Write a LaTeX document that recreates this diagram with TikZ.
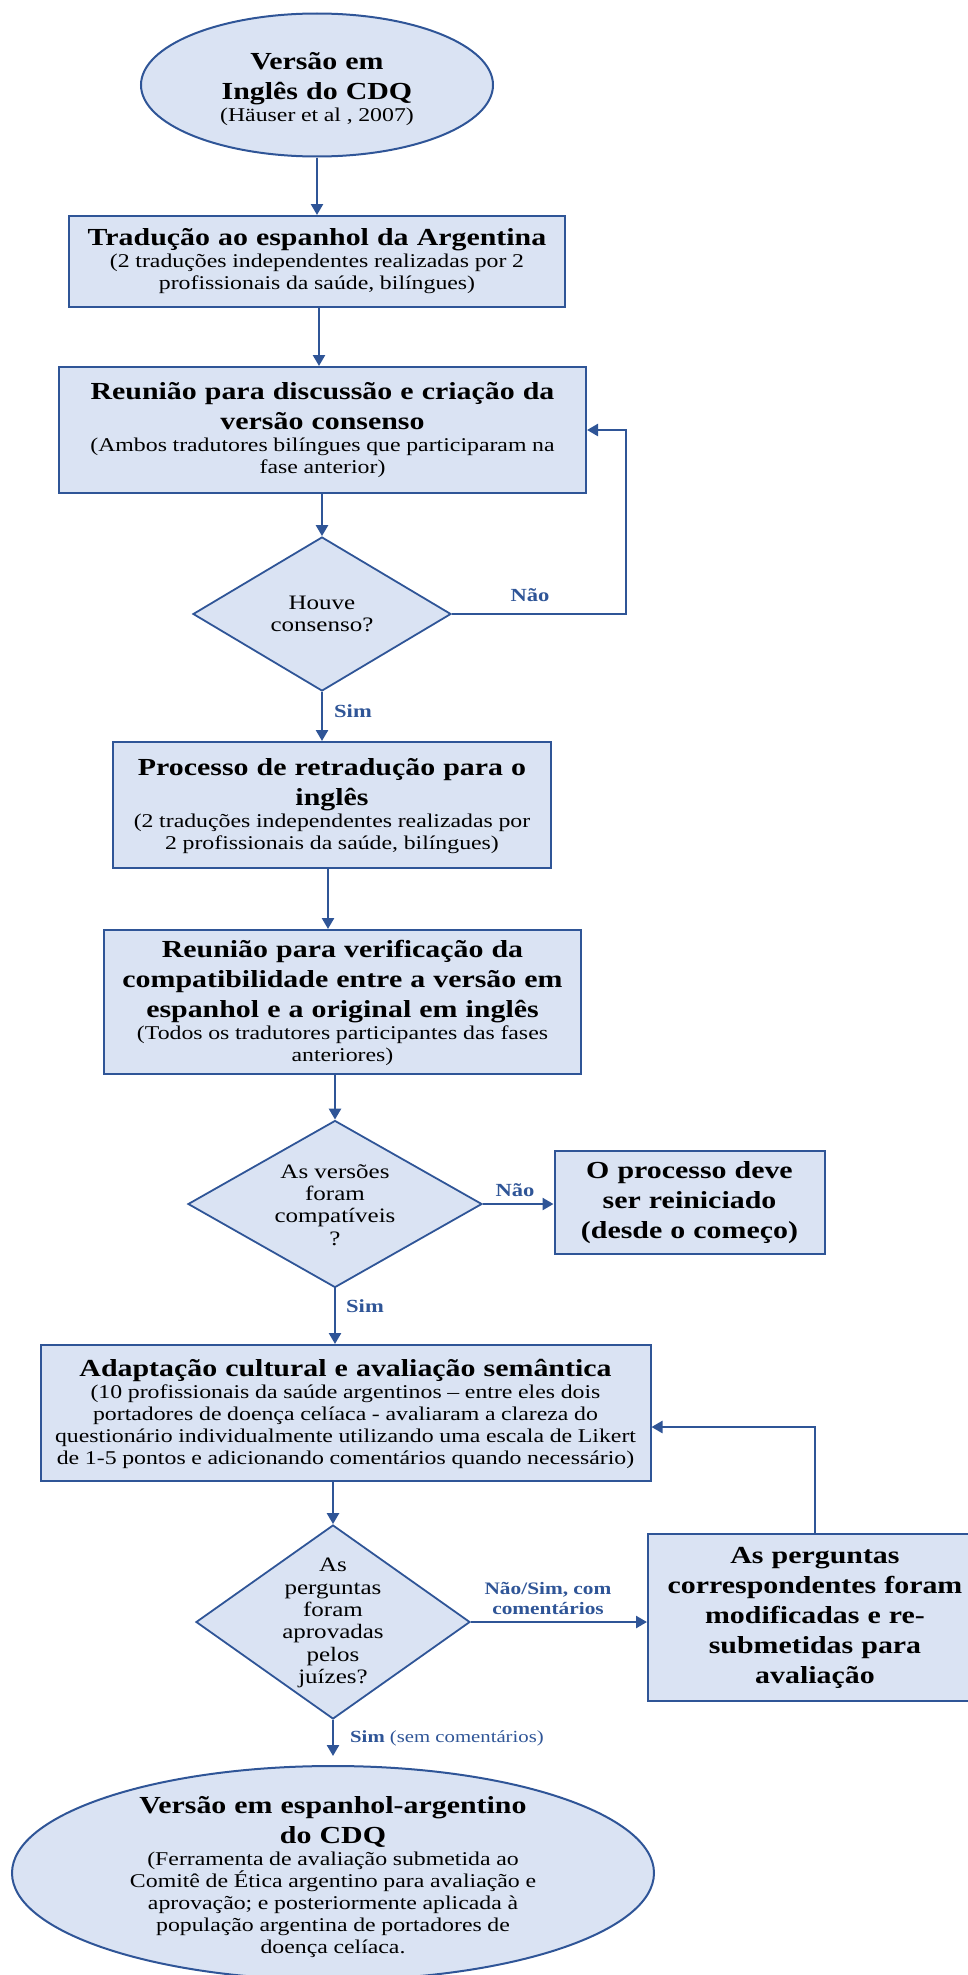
\documentclass[tikz,border=0pt]{standalone}
\usepackage{fontspec}
\setmainfont{Liberation Serif}[FakeStretch=1.22]
\usetikzlibrary{shapes.geometric,arrows.meta,calc}
\definecolor{boxfill}{HTML}{DAE3F3}
\definecolor{boxline}{HTML}{2F5597}
\definecolor{lbl}{HTML}{2F5597}
\newcommand\TitleF{\fontsize{24.5}{30}\selectfont\bfseries\spaceskip=0.33em\relax}
\newcommand\SubF{\fontsize{19.5}{22}\selectfont\mdseries\spaceskip=0.29em\relax}
\newcommand\DiaF{\fontsize{20.5}{22.4}\selectfont}
\newcommand\LblF{\fontsize{18.5}{20}\selectfont\bfseries}
\begin{document}
\begin{tikzpicture}[x=1pt,y=-1pt,
  box/.style={draw=boxline,fill=boxfill,line width=2pt,rectangle,inner sep=0pt,align=center},
  ell/.style={draw=boxline,fill=boxfill,line width=2pt,ellipse,inner sep=0pt,align=center},
  dia/.style={draw=boxline,fill=boxfill,line width=1.8pt,diamond,inner sep=0pt},
  dtext/.style={align=center,font=\DiaF,inner sep=0pt},
  arr/.style={draw=boxline,line width=2.5pt,-{Triangle[length=11pt,width=12pt]}},
  lab/.style={text=lbl,font=\LblF,inner sep=0pt,align=center}]
\useasboundingbox (0,0) rectangle (968,1975);

% start ellipse
\node[ell,minimum width=352pt,minimum height=143pt] (e1) at (317,85) {};
\node[align=center,inner sep=0pt,text width=340pt] (e1t) at (317,89)
  {\TitleF Versão em\\Inglês do CDQ\par\SubF (Häuser et al , 2007)\par};

\node[box,minimum width=496pt,minimum height=91pt] (b2) at (317,261.5) {};
\node[align=center,inner sep=0pt,text width=494pt] (b2t) at (317,261)
  {\TitleF Tradução ao espanhol da Argentina\par\SubF (2 traduções independentes realizadas por 2\\profissionais da saúde, bilíngues)\par};

\node[box,minimum width=527pt,minimum height=126pt] (b3) at (322.5,430) {};
\node[align=center,inner sep=0pt,text width=525pt] (b3t) at (322.5,430)
  {\TitleF Reunião para discussão e criação da\\versão consenso\par\SubF (Ambos tradutores bilíngues que participaram na\\fase anterior)\par};

\node[dia,minimum width=258pt,minimum height=154pt] (d1) at (322,614) {};
\node[dtext] (d1t) at (322,614) {Houve\\consenso?};

\node[box,minimum width=438pt,minimum height=126pt] (b4) at (332,805) {};
\node[align=center,inner sep=0pt,text width=436pt] (b4t) at (332,806)
  {\TitleF Processo de retradução para o\\inglês\par\SubF (2 traduções independentes realizadas por\\2 profissionais da saúde, bilíngues)\par};

\node[box,minimum width=477pt,minimum height=144pt] (b5) at (342.5,1002) {};
\node[align=center,inner sep=0pt,text width=475pt] (b5t) at (342.5,1003)
  {\TitleF Reunião para verificação da\\compatibilidade entre a versão em\\espanhol e a original em inglês\par\SubF (Todos os tradutores participantes das fases\\anteriores)\par};

\node[dia,minimum width=294pt,minimum height=167pt] (d2) at (335,1204) {};
\node[dtext] (d2t) at (335,1205) {As versões\\foram\\compatíveis\\?};

\node[box,minimum width=270pt,minimum height=103pt] (b6) at (689.5,1202.5) {};
\node[align=center,inner sep=0pt,text width=268pt] (b6t) at (689.5,1203)
  {\TitleF O processo deve\\ser reiniciado\\(desde o começo)\par};

\node[box,minimum width=610pt,minimum height=136pt] (b7) at (345.5,1413) {};
\node[align=center,inner sep=0pt,text width=608pt] (b7t) at (345.5,1414)
  {\TitleF Adaptação cultural e avaliação semântica\par\SubF (10 profissionais da saúde argentinos – entre eles dois\\portadores de doença celíaca - avaliaram a clareza do\\questionário individualmente utilizando uma escala de Likert\\de 1-5 pontos e adicionando comentários quando necessário)\par};

\node[dia,minimum width=274pt,minimum height=194pt] (d3) at (333,1622) {};
\node[dtext] (d3t) at (333,1623) {As\\perguntas\\foram\\aprovadas\\pelos\\juízes?};

\node[box,minimum width=334pt,minimum height=167pt] (b8) at (815,1617.5) {};
\node[align=center,inner sep=0pt,text width=332pt] (b8t) at (815,1618)
  {\TitleF As perguntas\\correspondentes foram\\modificadas e re-\\submetidas para\\avaliação\par};

\node[ell,minimum width=642pt,minimum height=214pt] (e2) at (333,1873) {};
\node[align=center,inner sep=0pt,text width=620pt] (e2t) at (333,1877)
  {\TitleF Versão em espanhol-argentino\\do CDQ\par\SubF (Ferramenta de avaliação submetida ao\\Comitê de Ética argentino para avaliação e\\aprovação; e posteriormente aplicada à\\população argentina de portadores de\\doença celíaca.\par};

% connectors
\draw[arr] (e1.south) -- (e1.south |- b2.north);
\draw[arr] ([xshift=2pt]b2.south) -- ([xshift=2pt]b2.south |- b3.north);
\draw[arr] (d1.north |- b3.south) -- (d1.north);
\coordinate (loopx) at (626,0);
\draw[arr] (d1.east) -| (loopx |- b3.east) -- (b3.east);
\draw[arr] (d1.south) -- (d1.south |- b4.north);
\draw[arr] ([xshift=-4pt]b4.south) -- ([xshift=-4pt]b4.south |- b5.north);
\draw[arr] (d2.north |- b5.south) -- (d2.north);
\draw[arr] (d2.east) -- (d2.east -| b6.west);
\draw[arr] (d2.south) -- (d2.south |- b7.north);
\draw[arr] (d3.north |- b7.south) -- (d3.north);
\draw[arr] (d3.east) -- (d3.east -| b8.west);
\draw[arr] (b8.north) |- ([yshift=-14pt]b7.east);
\draw[arr] (d3.south) -- ([yshift=9pt]e2.north);

% labels
\node[lab] (l1) at (530,595) {Não};
\node[lab] (l2) at (353,711) {Sim};
\node[lab] (l3) at (515,1190) {Não};
\node[lab] (l4) at (365,1306) {Sim};
\node[lab,font=\fontsize{17.5}{20}\selectfont\bfseries] (l5) at (548,1598) {Não/Sim, com\\comentários};
\node[lab,anchor=west,font=\fontsize{17}{20}\selectfont\bfseries] (l6) at (350,1738) {Sim \mdseries(sem comentários)};
\end{tikzpicture}
\end{document}
